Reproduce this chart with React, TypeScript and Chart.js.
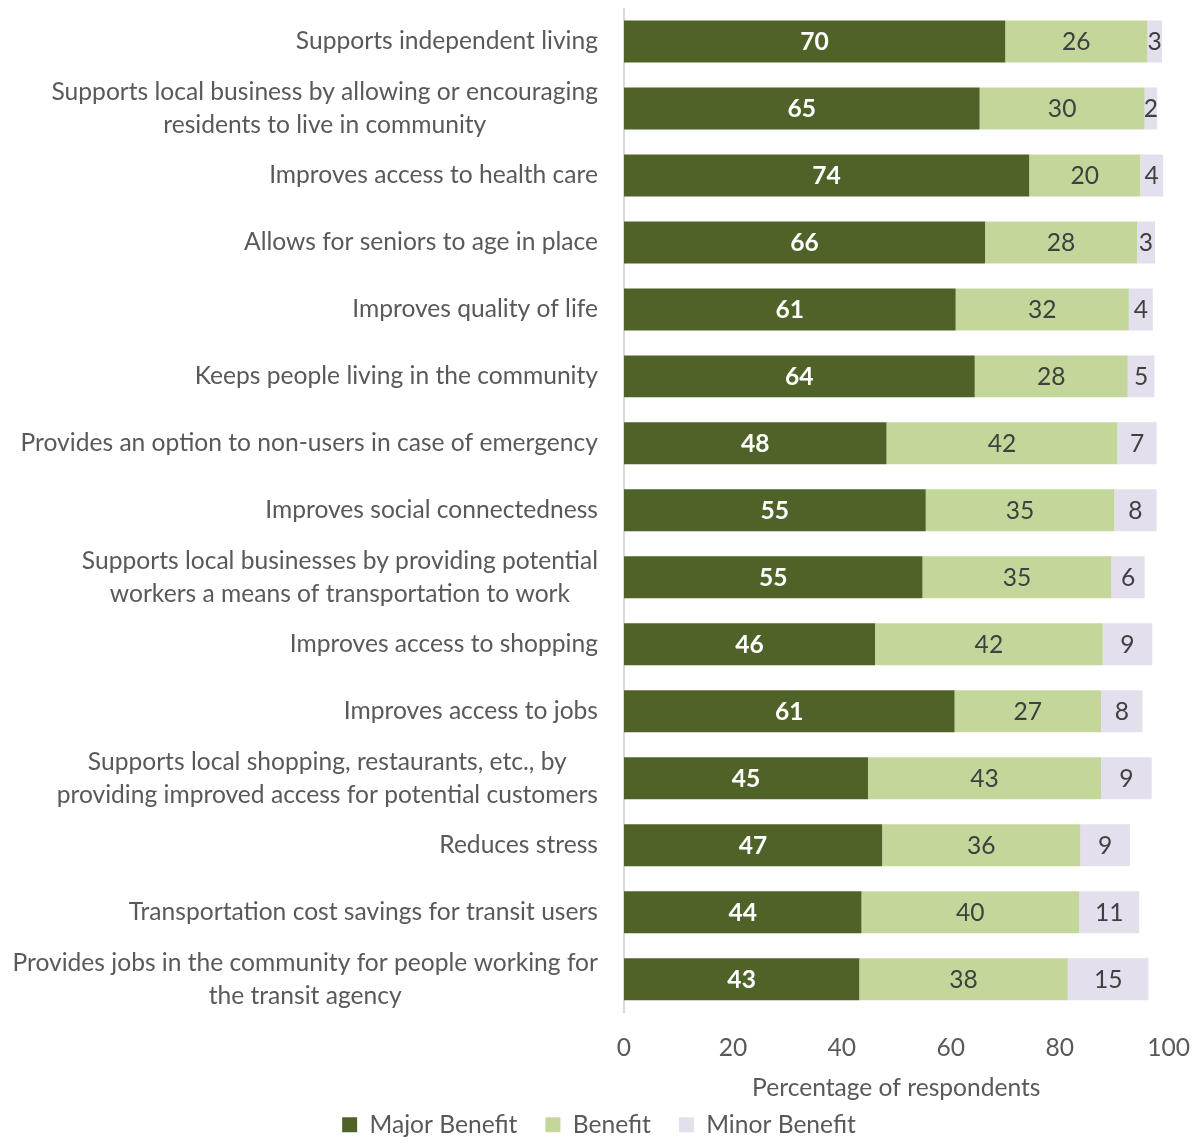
import React, { useEffect, useRef } from "react";
import { Chart, registerables } from "chart.js";

Chart.register(...registerables);

const categories: (string | string[])[] = [
  "Supports independent living",
  ["Supports local business by allowing or encouraging", "residents to live in community"],
  "Improves access to health care",
  "Allows for seniors to age in place",
  "Improves quality of life",
  "Keeps people living in the community",
  "Provides an option to non-users in case of emergency",
  "Improves social connectedness",
  ["Supports local businesses by providing potential", "workers a means of transportation to work"],
  "Improves access to shopping",
  "Improves access to jobs",
  ["Supports local shopping, restaurants, etc., by", "providing improved access for potential customers"],
  "Reduces stress",
  "Transportation cost savings for transit users",
  ["Provides jobs in the community for people working for", "the transit agency"],
];

const majorBenefit = [70.0, 65.3, 74.4, 66.3, 60.9, 64.4, 48.2, 55.4, 54.8, 46.1, 60.7, 44.8, 47.4, 43.6, 43.2];
const benefit = [26.1, 30.3, 20.4, 27.9, 31.8, 28.1, 42.4, 34.6, 34.7, 41.8, 26.9, 42.8, 36.4, 40.0, 38.3];
const minorBenefit = [2.7, 2.3, 4.2, 3.3, 4.4, 4.9, 7.2, 7.8, 6.1, 9.1, 7.6, 9.3, 9.1, 11.0, 14.8];

const seriesNames = ["Major Benefit", "Benefit", "Minor Benefit"];
const xTicks = [0, 20, 40, 60, 80, 100];
const axisTitle = "Percentage of respondents";

const FONT = "Lato, 'Open Sans', sans-serif";
const FS = 24.6;
const TEXT = "#595959";
const COLORS = ["#4F6228", "#C4D79B", "#E4DFEC"];

const labelPlugin = {
  id: "customLabels",
  afterDatasetsDraw(chart: any) {
    const ctx = chart.ctx;
    ctx.save();
    ctx.textBaseline = "middle";
    ctx.textAlign = "center";
    chart.data.datasets.forEach((ds: any, di: number) => {
      const meta = chart.getDatasetMeta(di);
      ctx.font = di === 0 ? `bold ${FS}px ${FONT}` : `${FS}px ${FONT}`;
      ctx.fillStyle = di === 0 ? "#FFFFFF" : "#404040";
      meta.data.forEach((bar: any, i: number) => {
        const v = ds.data[i];
        const p = bar.getProps(["x", "y", "base"], true);
        const cx = (p.x + p.base) / 2;
        ctx.fillText(String(Math.round(v)), cx, p.y + 1);
      });
    });
    // category labels
    const yScale = chart.scales.y;
    ctx.font = `${FS}px ${FONT}`;
    ctx.fillStyle = TEXT;
    const right = chart.chartArea.left - 26;
    categories.forEach((lab, i) => {
      const lines = Array.isArray(lab) ? lab : [lab];
      const yc = yScale.getPixelForTick(i);
      const w = Math.max(...lines.map((l) => ctx.measureText(l).width));
      const cx = right - w / 2;
      lines.forEach((l, k) => {
        ctx.fillText(l, cx, yc + (k - (lines.length - 1) / 2) * 33);
      });
    });
    ctx.restore();
  },
};

export default function App() {
  const ref = useRef<HTMLCanvasElement | null>(null);
  useEffect(() => {
    document.documentElement.style.overflow = "hidden";
    document.body.style.overflow = "hidden";
    if (!ref.current) return;
    const chart = new Chart(ref.current, {
      type: "bar",
      data: {
        labels: categories as any,
        datasets: [
          { label: seriesNames[0], data: majorBenefit, backgroundColor: COLORS[0] },
          { label: seriesNames[1], data: benefit, backgroundColor: COLORS[1] },
          { label: seriesNames[2], data: minorBenefit, backgroundColor: COLORS[2] },
        ],
      },
      options: {
        indexAxis: "y",
        responsive: false,
        animation: false,
        devicePixelRatio: 1,
        layout: { padding: { left: 0, right: 0, top: 0, bottom: 0 } },
        datasets: { bar: { categoryPercentage: 1, barPercentage: 0.627 } },
        scales: {
          x: {
            type: "linear",
            stacked: true,
            min: 0,
            max: 100,
            afterBuildTicks: (s: any) => {
              s.ticks = xTicks.map((v) => ({ value: v }));
            },
            grid: { display: false, drawTicks: true, tickLength: 21 },
            border: { display: false },
            ticks: { font: { family: FONT, size: FS }, color: TEXT, padding: 0 },
            title: {
              display: true,
              text: axisTitle,
              font: { family: FONT, size: FS },
              color: TEXT,
              padding: { top: 9.7, bottom: -18 },
            },
          },
          y: {
            type: "category",
            stacked: true,
            grid: { display: false, drawTicks: false },
            border: { display: true, color: "#D9D9D9", width: 2 },
            ticks: { display: false },
            afterFit: (s: any) => {
              s.width = 616;
            },
          },
        },
        plugins: {
          legend: {
            position: "bottom",
            labels: {
              font: { family: FONT, size: FS },
              color: TEXT,
              boxWidth: 15,
              boxHeight: 15,
              padding: 28,
            },
          },
          tooltip: { enabled: false },
        },
      } as any,
      plugins: [labelPlugin],
    });
    return () => chart.destroy();
  }, []);
  return (
    <div style={{ width: 1182, height: 1139 }}>
      <canvas ref={ref} width={1182} height={1139} style={{ display: "block" }} />
    </div>
  );
}
